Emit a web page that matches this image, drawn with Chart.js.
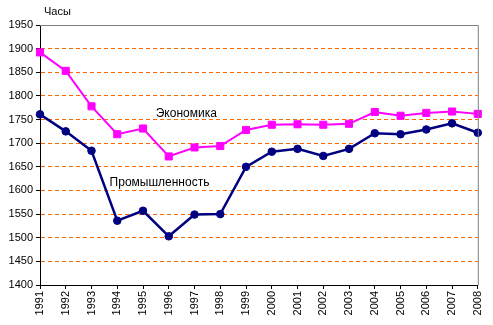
<!DOCTYPE html>
<html><head><meta charset="utf-8">
<script src="https://cdn.jsdelivr.net/npm/chart.js@4"></script>
<style>html,body{margin:0;padding:0;background:#fff;}#wrap{width:493px;height:325px;}</style>
</head><body><div id="wrap"><canvas id="c" width="493" height="325"></canvas></div>
<script>
const years = ['1991','1992','1993','1994','1995','1996','1997','1998','1999','2000','2001','2002','2003','2004','2005','2006','2007','2008'];
const economy = [1892,1853,1778,1719,1731,1672,1691,1694,1728,1739,1740,1739,1741,1766,1758,1764,1767,1762];
const industry = [1761,1725,1684,1536,1557,1503,1549,1550,1650,1682,1688,1673,1688,1721,1719,1729,1742,1722];
const yTicks = [1400,1450,1500,1550,1600,1650,1700,1750,1800,1850,1900,1950];
const unitLabel = 'Часы';
const seriesLabels = [
  {text:'Экономика', x:5.68, y:1763},
  {text:'Промышленность', x:4.64, y:1617}
];
const FONT = '"Liberation Sans", Arial, sans-serif';

const extras = {
  id:'extras',
  afterDraw(chart){
    const {ctx, chartArea:a, scales:{x,y}} = chart;
    ctx.save();
    ctx.strokeStyle = '#808080'; ctx.lineWidth = 1;
    ctx.beginPath();
    ctx.moveTo(a.left, a.top+0.5); ctx.lineTo(a.right+0.5, a.top+0.5);
    ctx.lineTo(a.right+0.5, a.bottom);
    ctx.stroke();
    ctx.fillStyle = '#000';
    ctx.font = '11px ' + FONT;
    ctx.textBaseline = 'middle'; ctx.textAlign = 'left';
    ctx.fillText(unitLabel, a.left+4, a.top-13);
    ctx.font = '12px ' + FONT; ctx.textAlign = 'center';
    seriesLabels.forEach(l => ctx.fillText(l.text, x.getPixelForValue(l.x), y.getPixelForValue(l.y)));
    ctx.restore();
  }
};

new Chart(document.getElementById('c'), {
  type:'line',
  data:{labels:years, datasets:[
    {label:'Экономика', data:economy, borderColor:'#FF00FF', backgroundColor:'#FF00FF', borderWidth:2, pointStyle:'rect', pointRadius:5, pointBorderWidth:1, tension:0},
    {label:'Промышленность', data:industry, borderColor:'#000080', backgroundColor:'#000080', borderWidth:2.5, pointStyle:'circle', pointRadius:3.8, pointBorderWidth:1, tension:0}
  ]},
  options:{
    responsive:false, animation:false,
    layout:{padding:{top:25, right:13, left:0, bottom:0}},
    plugins:{legend:{display:false}, tooltip:{enabled:false}},
    scales:{
      x:{
        offset:false,
        grid:{drawOnChartArea:false, drawTicks:true, tickLength:4, tickColor:'#000', tickWidth:1},
        border:{color:'#000', width:1},
        ticks:{color:'#000', font:{family:FONT, size:11}, minRotation:90, maxRotation:90, padding:2, autoSkip:false},
        afterFit(s){ s.height = 40; }
      },
      y:{
        min:1400, max:1950,
        afterBuildTicks(s){ s.ticks = yTicks.map(v=>({value:v})); },
        grid:{color:(c)=> (c.tick && (c.tick.value===1400 || c.tick.value===1950)) ? 'rgba(0,0,0,0)' : '#FF6600',
              lineWidth:1, drawTicks:true, tickLength:4, tickColor:'#000', tickBorderDash:[]},
        border:{color:'#000', width:1, dash:[4,3]},
        ticks:{color:'#000', font:{family:FONT, size:11}, padding:3, callback:(v)=>String(v)},
        afterFit(s){ s.width = 40; }
      }
    }
  },
  plugins:[extras]
});
</script></body></html>
